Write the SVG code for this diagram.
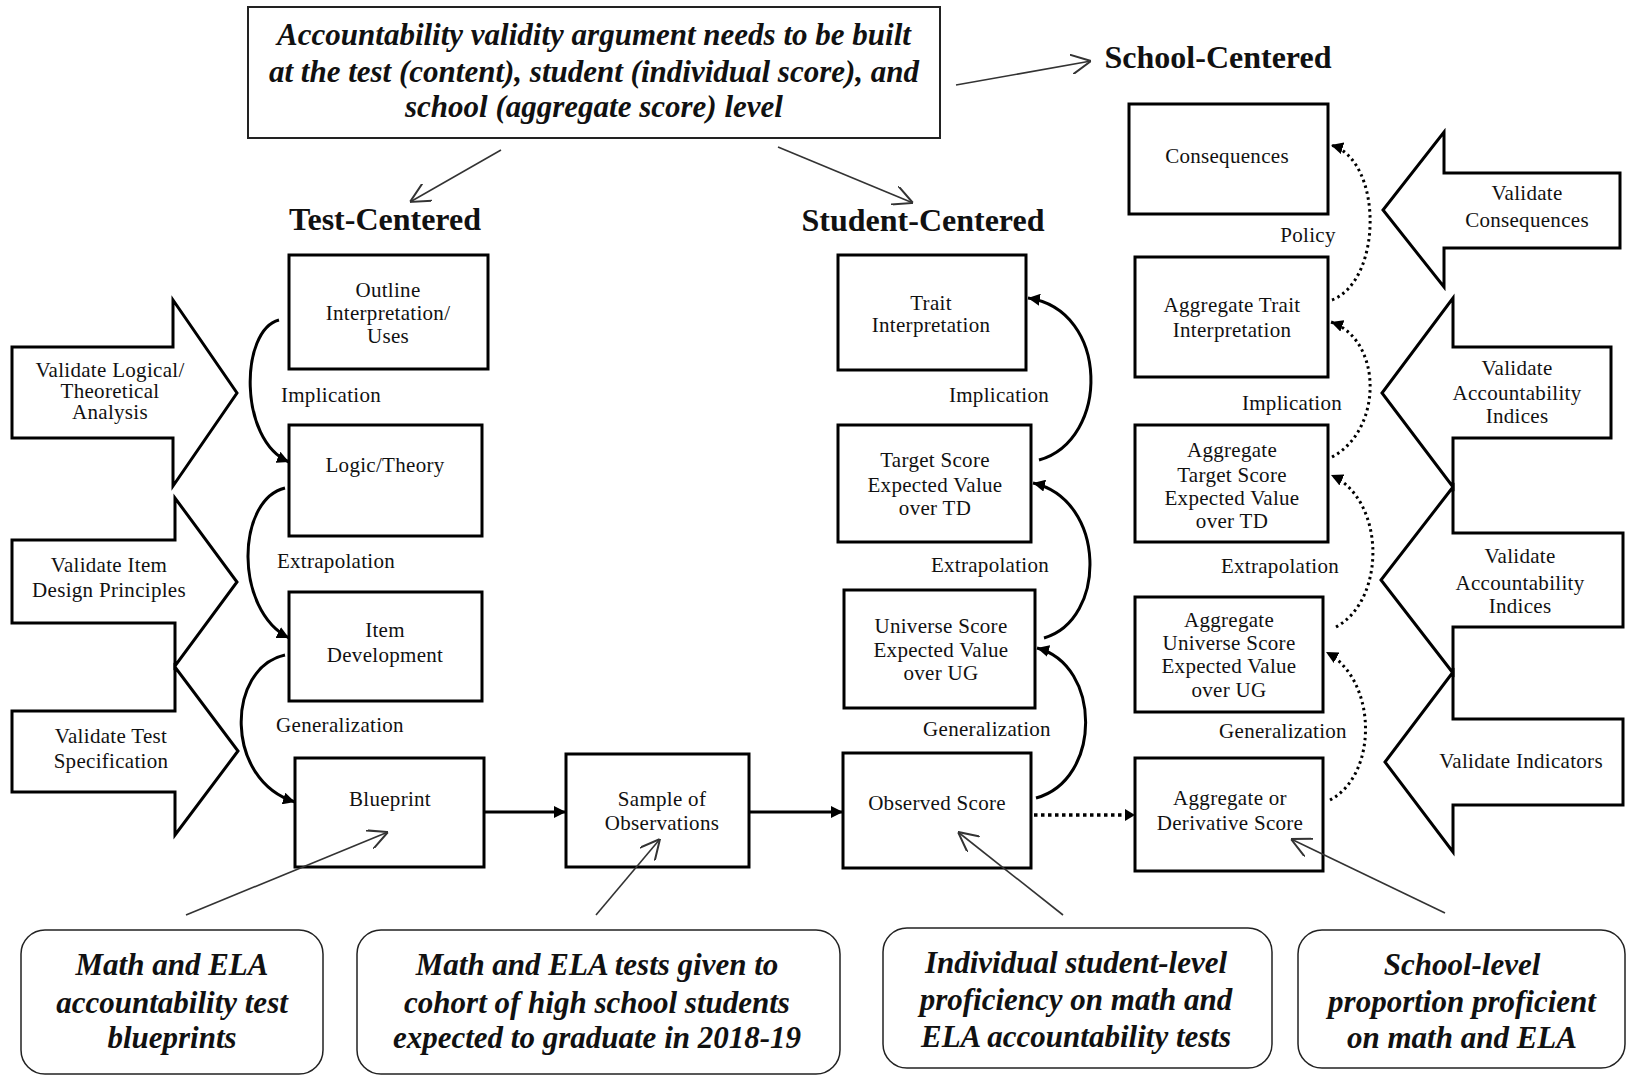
<svg xmlns="http://www.w3.org/2000/svg" width="1627" height="1078" viewBox="0 0 1627 1078">
  <style>
    .box { fill: #fff; stroke: #000; stroke-width: 3; }
    .blk { fill: #fff; stroke: #000; stroke-width: 3; stroke-linejoin: miter; }
    .note { fill: #fff; stroke: #222; stroke-width: 1.5; }
    .frame { fill: #fff; stroke: #222; stroke-width: 2; }
    .t { font-family: "Liberation Serif", "Times New Roman", serif; font-size: 21px; letter-spacing: 0.3px; fill: #111; text-anchor: middle; }
    .h { font-family: "Liberation Serif", "Times New Roman", serif; font-size: 32px; font-weight: bold; fill: #111; text-anchor: middle; }
    .bi { font-family: "Liberation Serif", "Times New Roman", serif; font-size: 31px; font-weight: bold; font-style: italic; fill: #111; text-anchor: middle; }
    .curve { fill: none; stroke: #000; stroke-width: 3; }
    .dot { fill: none; stroke: #000; stroke-width: 3; stroke-dasharray: 2.5 3.5; }
    .dotline { fill: none; stroke: #000; stroke-width: 3.5; stroke-dasharray: 3.5 3.5; }
    .thin { fill: none; stroke: #333; stroke-width: 1.6; }
  </style>
  <defs>
    <marker id="solidHead" markerWidth="12" markerHeight="12" refX="10" refY="5" orient="auto" markerUnits="userSpaceOnUse" viewBox="0 0 10 10">
      <path d="M0,0 L10,5 L0,10 Z" fill="#000"/>
    </marker>
    <marker id="openHead" markerWidth="20" markerHeight="20" refX="10" refY="5" orient="auto" markerUnits="userSpaceOnUse" viewBox="0 0 10 10">
      <path d="M0,0 L10,5 L0,10" fill="none" stroke="#333" stroke-width="1"/>
    </marker>
  </defs>

  <!-- header statement -->
  <g id="statement">
    <rect class="frame" x="248" y="7" width="692" height="131"/>
    <text class="bi" x="594" y="45">Accountability validity argument needs to be built</text>
    <text class="bi" x="594" y="82">at the test (content), student (individual score), and</text>
    <text class="bi" x="594" y="117">school (aggregate score) level</text>
  </g>

  <!-- column headings -->
  <g id="head-test"><text class="h" x="385" y="230">Test-Centered</text></g>
  <g id="head-student"><text class="h" x="923" y="231">Student-Centered</text></g>
  <g id="head-school"><text class="h" x="1218" y="68">School-Centered</text></g>

  <!-- test-centered chain -->
  <g id="outline">
    <rect class="box" x="289" y="255" width="199" height="114"/>
    <text class="t" x="388" y="297">Outline</text>
    <text class="t" x="388" y="320">Interpretation/</text>
    <text class="t" x="388" y="343">Uses</text>
  </g>
  <g id="logic">
    <rect class="box" x="289" y="425" width="193" height="111"/>
    <text class="t" x="385" y="472">Logic/Theory</text>
  </g>
  <g id="item-dev">
    <rect class="box" x="289" y="592" width="193" height="109"/>
    <text class="t" x="385" y="637">Item</text>
    <text class="t" x="385" y="662">Development</text>
  </g>
  <g id="blueprint">
    <rect class="box" x="295" y="758" width="189" height="109"/>
    <text class="t" x="390" y="806">Blueprint</text>
  </g>
  <g id="sample">
    <rect class="box" x="566" y="754" width="183" height="113"/>
    <text class="t" x="662" y="806">Sample of</text>
    <text class="t" x="662" y="830">Observations</text>
  </g>

  <!-- student-centered chain -->
  <g id="trait">
    <rect class="box" x="838" y="255" width="188" height="115"/>
    <text class="t" x="931" y="310">Trait</text>
    <text class="t" x="931" y="332">Interpretation</text>
  </g>
  <g id="target">
    <rect class="box" x="838" y="425" width="193" height="117"/>
    <text class="t" x="935" y="467">Target Score</text>
    <text class="t" x="935" y="492">Expected Value</text>
    <text class="t" x="935" y="515">over TD</text>
  </g>
  <g id="universe">
    <rect class="box" x="844" y="590" width="191" height="118"/>
    <text class="t" x="941" y="633">Universe Score</text>
    <text class="t" x="941" y="657">Expected Value</text>
    <text class="t" x="941" y="680">over UG</text>
  </g>
  <g id="observed">
    <rect class="box" x="843" y="753" width="188" height="115"/>
    <text class="t" x="937" y="810">Observed Score</text>
  </g>

  <!-- school-centered chain -->
  <g id="consequences">
    <rect class="box" x="1129" y="104" width="199" height="110"/>
    <text class="t" x="1227" y="163">Consequences</text>
  </g>
  <g id="agg-trait">
    <rect class="box" x="1135" y="257" width="193" height="120"/>
    <text class="t" x="1232" y="312">Aggregate Trait</text>
    <text class="t" x="1232" y="337">Interpretation</text>
  </g>
  <g id="agg-target">
    <rect class="box" x="1135" y="425" width="193" height="117"/>
    <text class="t" x="1232" y="457">Aggregate</text>
    <text class="t" x="1232" y="482">Target Score</text>
    <text class="t" x="1232" y="505">Expected Value</text>
    <text class="t" x="1232" y="528">over TD</text>
  </g>
  <g id="agg-universe">
    <rect class="box" x="1135" y="597" width="188" height="115"/>
    <text class="t" x="1229" y="627">Aggregate</text>
    <text class="t" x="1229" y="650">Universe Score</text>
    <text class="t" x="1229" y="673">Expected Value</text>
    <text class="t" x="1229" y="697">over UG</text>
  </g>
  <g id="agg-derivative">
    <rect class="box" x="1135" y="758" width="188" height="113"/>
    <text class="t" x="1230" y="805">Aggregate or</text>
    <text class="t" x="1230" y="830">Derivative Score</text>
  </g>

  <!-- validation block arrows, left side -->
  <g id="val-logical">
    <polygon class="blk" points="12,347 173,347 173,300 237,393 173,486 173,438 12,438"/>
    <text class="t" x="110" y="377">Validate Logical/</text>
    <text class="t" x="110" y="398">Theoretical</text>
    <text class="t" x="110" y="419">Analysis</text>
  </g>
  <g id="val-item">
    <polygon class="blk" points="12,540 175,540 175,498 237,582 175,666 175,623 12,623"/>
    <text class="t" x="109" y="572">Validate Item</text>
    <text class="t" x="109" y="597">Design Principles</text>
  </g>
  <g id="val-spec">
    <polygon class="blk" points="12,711 175,711 175,667 238,751 175,835 175,792 12,792"/>
    <text class="t" x="111" y="743">Validate Test</text>
    <text class="t" x="111" y="768">Specification</text>
  </g>

  <!-- validation block arrows, right side -->
  <g id="val-consequences">
    <polygon class="blk" points="1620,173 1444,173 1444,132 1383,210 1444,287 1444,248 1620,248"/>
    <text class="t" x="1527" y="200">Validate</text>
    <text class="t" x="1527" y="227">Consequences</text>
  </g>
  <g id="val-indices-1">
    <polygon class="blk" points="1611,347 1453,347 1453,298 1382,393 1453,487 1453,438 1611,438"/>
    <text class="t" x="1517" y="375">Validate</text>
    <text class="t" x="1517" y="400">Accountability</text>
    <text class="t" x="1517" y="423">Indices</text>
  </g>
  <g id="val-indices-2">
    <polygon class="blk" points="1623,533 1453,533 1453,487 1381,580 1453,673 1453,627 1623,627"/>
    <text class="t" x="1520" y="563">Validate</text>
    <text class="t" x="1520" y="590">Accountability</text>
    <text class="t" x="1520" y="613">Indices</text>
  </g>
  <g id="val-indicators">
    <polygon class="blk" points="1623,719 1453,719 1453,672 1385,762 1453,852 1453,805 1623,805"/>
    <text class="t" x="1521" y="768">Validate Indicators</text>
  </g>

  <!-- example notes -->
  <g id="note-blueprints">
    <rect class="note" x="21" y="930" width="302" height="144" rx="24"/>
    <text class="bi" x="172" y="975">Math and ELA</text>
    <text class="bi" x="172" y="1013">accountability test</text>
    <text class="bi" x="172" y="1048">blueprints</text>
  </g>
  <g id="note-tests">
    <rect class="note" x="357" y="930" width="483" height="144" rx="24"/>
    <text class="bi" x="597" y="975">Math and ELA tests given to</text>
    <text class="bi" x="597" y="1013">cohort of high school students</text>
    <text class="bi" x="597" y="1048">expected to graduate in 2018-19</text>
  </g>
  <g id="note-student">
    <rect class="note" x="883" y="928" width="389" height="140" rx="24"/>
    <text class="bi" x="1076" y="973">Individual student-level</text>
    <text class="bi" x="1076" y="1010">proficiency on math and</text>
    <text class="bi" x="1076" y="1047">ELA accountability tests</text>
  </g>
  <g id="note-school">
    <rect class="note" x="1298" y="930" width="327" height="138" rx="24"/>
    <text class="bi" x="1462" y="975">School-level</text>
    <text class="bi" x="1462" y="1012">proportion proficient</text>
    <text class="bi" x="1462" y="1048">on math and ELA</text>
  </g>

  <!-- inference labels -->
  <g id="labels">
    <text class="t" x="331" y="402">Implication</text>
    <text class="t" x="336" y="568">Extrapolation</text>
    <text class="t" x="340" y="732">Generalization</text>
    <text class="t" x="999" y="402">Implication</text>
    <text class="t" x="990" y="572">Extrapolation</text>
    <text class="t" x="987" y="736">Generalization</text>
    <text class="t" x="1308" y="242">Policy</text>
    <text class="t" x="1292" y="410">Implication</text>
    <text class="t" x="1280" y="573">Extrapolation</text>
    <text class="t" x="1283" y="738">Generalization</text>
  </g>

  <!-- connectors -->
  <g id="connectors">
    <!-- statement pointers -->
    <path class="thin" d="M501,150 L410,202" marker-end="url(#openHead)"/>
    <path class="thin" d="M778,147 L913,203" marker-end="url(#openHead)"/>
    <path class="thin" d="M956,85 L1091,61" marker-end="url(#openHead)"/>

    <!-- test-centered inferences -->
    <path class="curve" d="M279,320 C240,330 238,440 289,462" marker-end="url(#solidHead)"/>
    <path class="curve" d="M285,488 C236,500 234,610 289,638" marker-end="url(#solidHead)"/>
    <path class="curve" d="M285,655 C226,668 224,780 295,802" marker-end="url(#solidHead)"/>

    <!-- main flow -->
    <path class="curve" d="M484,812 L566,812" marker-end="url(#solidHead)"/>
    <path class="curve" d="M749,812 L843,812" marker-end="url(#solidHead)"/>
    <path class="dotline" d="M1034,815 L1126,815"/>
    <path d="M1125,809 L1135,815 L1125,821 Z" fill="#000"/>

    <!-- student-centered inferences -->
    <path class="curve" d="M1039,460 C1110,440 1110,310 1028,298" marker-end="url(#solidHead)"/>
    <path class="curve" d="M1044,638 C1107,620 1107,500 1033,483" marker-end="url(#solidHead)"/>
    <path class="curve" d="M1036,798 C1102,780 1102,665 1037,648" marker-end="url(#solidHead)"/>

    <!-- school-centered inferences -->
    <path class="dot" d="M1332,300 C1383,280 1383,160 1331,145" marker-end="url(#solidHead)"/>
    <path class="dot" d="M1332,457 C1383,430 1383,340 1331,322" marker-end="url(#solidHead)"/>
    <path class="dot" d="M1336,627 C1386,600 1386,500 1331,475" marker-end="url(#solidHead)"/>
    <path class="dot" d="M1330,800 C1378,775 1378,680 1326,652" marker-end="url(#solidHead)"/>

    <!-- note pointers -->
    <path class="thin" d="M186,915 L388,832" marker-end="url(#openHead)"/>
    <path class="thin" d="M596,915 L660,839" marker-end="url(#openHead)"/>
    <path class="thin" d="M1063,915 L958,832" marker-end="url(#openHead)"/>
    <path class="thin" d="M1445,913 L1291,839" marker-end="url(#openHead)"/>
  </g>
</svg>
